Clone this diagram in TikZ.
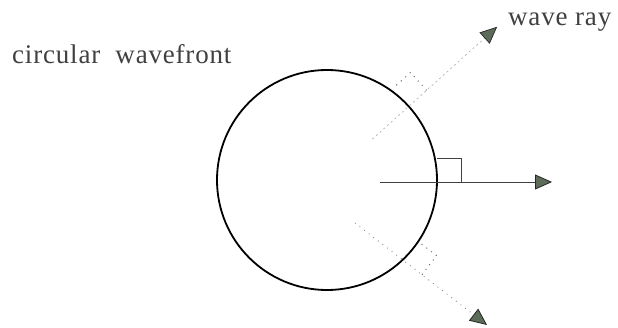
\documentclass[tikz,border=0pt]{standalone}
\usepackage{fontspec}
\setmainfont{Liberation Serif}[LetterSpace=3]
\usepackage{tikz}
\usetikzlibrary{arrows.meta,calc}
\definecolor{tipgreen}{RGB}{92,108,88}
\tikzset{
  wf/.style={x=1pt, y=1pt, >={Triangle[length=17pt,width=15pt,color=black!85,fill=tipgreen]},
             every node/.style={font=\fontsize{27}{30}\selectfont, text=black!75, inner sep=0pt}},
  front/.style={draw=black, circle, line width=1.8pt, minimum size=220pt, outer sep=0pt},
  mainray/.style={->, draw=black!75, line width=0.8pt},
  faintray/.style={->, draw=black!30, line width=0.7pt, dash pattern=on 2pt off 3pt},
  dotray/.style={->, draw=black!55, line width=0.8pt, dash pattern=on 0.8pt off 5pt},
  sqmark/.style={draw=black!75, line width=0.7pt},
  dotmark/.style={draw=black!60, line width=1pt, dash pattern=on 1pt off 5pt}
}

\begin{document}
\begin{tikzpicture}[wf]
\useasboundingbox (0,0) rectangle (618,327);
\node[front] (circ) at (327,147) {};
\node[anchor=base west] (lblfront) at (12,263) {circular\ \ wavefront};
\node[anchor=base west] (lblray) at (508,301) {wave ray};
% horizontal ray
\coordinate (h0) at (380,145); \coordinate (h1) at (552,145); \coordinate (hc) at (437,145);
\draw[mainray] (h0) -- (h1);
\draw[sqmark] (hc) -- ++(0:24) -- ++(90:24) -- ++(180:24);
% upper ray
\coordinate (u0) at ($(circ.center)+(42:61)$); \coordinate (u1) at ($(circ.center)+(42:229)$);
\coordinate (uc) at ($(circ.center)+(42:110)$);
\draw[faintray] (u0) -- (u1);
\draw[dotmark] (uc) ++(42:24) -- ++(132:24) -- ++(222:24);
% lower ray
\coordinate (l0) at (355,104); \coordinate (l1) at (487,2); \coordinate (lc) at (403,67);
\draw[dotray] (l0) -- (l1);
\draw[dotmark] (lc) ++(-37.7:24) -- ++(52.3:24) -- ++(142.3:24);
\end{tikzpicture}
\end{document}
